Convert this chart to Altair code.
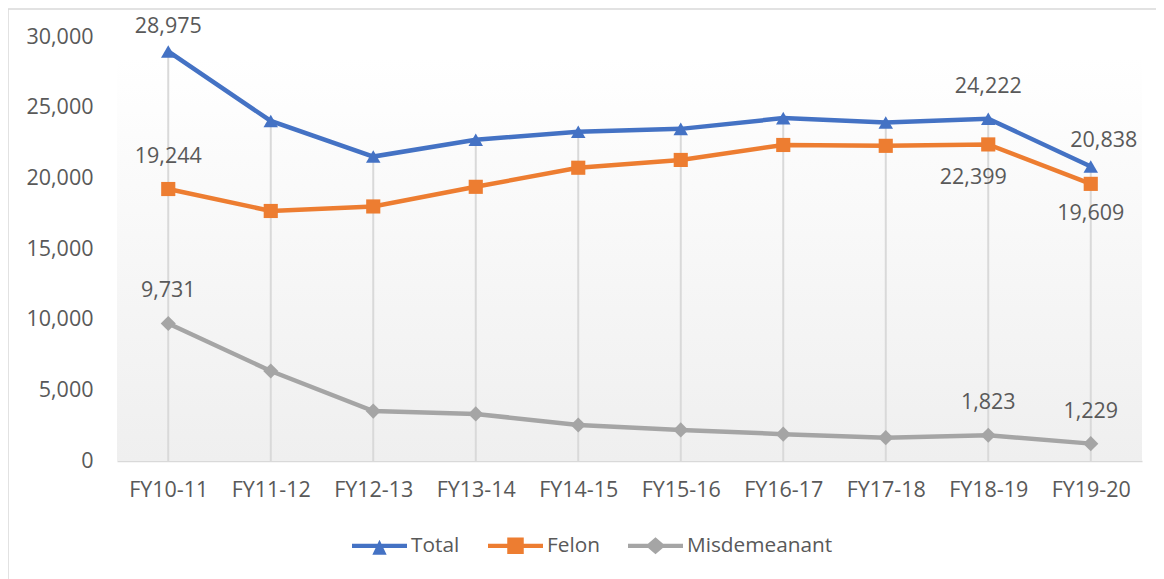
import altair as alt
import pandas as pd

categories = ["FY10-11", "FY11-12", "FY12-13", "FY13-14", "FY14-15",
              "FY15-16", "FY16-17", "FY17-18", "FY18-19", "FY19-20"]
series_names = ["Total", "Felon", "Misdemeanant"]
total = [28975, 24060, 21540, 22730, 23300, 23500, 24260, 23950, 24222, 20838]
felon = [19244, 17690, 18010, 19400, 20750, 21300, 22360, 22300, 22399, 19609]
misdemeanant = [9731, 6370, 3530, 3330, 2550, 2200, 1900, 1650, 1823, 1229]
y_ticks = [0, 5000, 10000, 15000, 20000, 25000, 30000]

# which points carry a data label, and where the label sits
labelled = [
    ("Total", "FY10-11", "top_tight"),
    ("Felon", "FY10-11", "above"),
    ("Misdemeanant", "FY10-11", "above"),
    ("Total", "FY18-19", "above"),
    ("Felon", "FY18-19", "below_left"),
    ("Misdemeanant", "FY18-19", "above"),
    ("Total", "FY19-20", "above_right"),
    ("Felon", "FY19-20", "below"),
    ("Misdemeanant", "FY19-20", "above"),
]
offsets = {
    "top_tight": (0, -24),
    "above": (0, -32),
    "below_left": (-15, 34),
    "above_right": (13, -25),
    "below": (0, 30),
}

colors = ["#4472C4", "#ED7D31", "#A5A5A5"]
marker_shapes = {"Total": ("triangle-up", 210), "Felon": ("square", 200), "Misdemeanant": ("diamond", 230)}
legend_paths = [
    "M-1,-0.08L1,-0.08L1,0.08L-1,0.08Z M-0.26,0.32L0,-0.22L0.26,0.32Z",
    "M-1,-0.08L1,-0.08L1,0.08L-1,0.08Z M-0.3,-0.3L0.3,-0.3L0.3,0.3L-0.3,0.3Z",
    "M-1,-0.08L1,-0.08L1,0.08L-1,0.08Z M-0.36,0L0,-0.31L0.36,0L0,0.31Z",
]

values = {"Total": total, "Felon": felon, "Misdemeanant": misdemeanant}
rows = []
for s in series_names:
    for c, v in zip(categories, values[s]):
        rows.append({"series": s, "category": c, "value": v})
df = pd.DataFrame(rows)
df_total = df[df.series == "Total"]

lab_rows = []
for s, c, p in labelled:
    v = values[s][categories.index(c)]
    lab_rows.append({"series": s, "category": c, "value": v, "place": p})
df_lab = pd.DataFrame(lab_rows)

W, H = 1025, 424
FONT = "Open Sans"
TXT = "#595959"
FS = 21.5

x_axis = alt.Axis(title=None, labelAngle=0, labelFontSize=FS, labelColor=TXT,
                  labelFont=FONT, labelPadding=18, domainColor="#d9d9d9",
                  domainWidth=1.5, ticks=False, grid=False)
y_axis = alt.Axis(title=None, values=y_ticks, format=",.0f", labelFontSize=FS,
                  labelColor=TXT, labelFont=FONT, labelPadding=24,
                  domain=False, ticks=False, grid=False)
x_scale = alt.Scale(type="point", padding=0.5)
y_scale = alt.Scale(domain=[0, 30000], nice=False)
x_enc = alt.X("category:N", sort=categories, scale=x_scale, axis=x_axis)
y_enc = alt.Y("value:Q", scale=y_scale, axis=y_axis)
color_scale = alt.Scale(domain=series_names, range=colors)

border = alt.Chart(pd.DataFrame({"a": [0]})).mark_rect(
    fill=None, stroke="#d9d9d9", strokeWidth=1.5, clip=False
).encode(x=alt.value(-109), x2=alt.value(W + 200), y=alt.value(-28), y2=alt.value(H + 300))

bg = alt.Chart(pd.DataFrame({"a": [0]})).mark_rect(
    color=alt.Gradient(gradient="linear", x1=0, x2=0, y1=0, y2=1,
                       stops=[alt.GradientStop(offset=0.05, color="#ffffff"),
                              alt.GradientStop(offset=1, color="#efefef")])
).encode(x=alt.value(0), x2=alt.value(W),
         y=alt.Y(datum=30000, type="quantitative", scale=y_scale, axis=y_axis),
         y2=alt.datum(0))

drops = alt.Chart(df_total).mark_rule(color="#d9d9d9", strokeWidth=2).encode(
    x=x_enc, y=y_enc, y2=alt.datum(0))

lines = alt.Chart(df).mark_line(strokeWidth=4.5).encode(
    x=x_enc, y=y_enc, color=alt.Color("series:N", scale=color_scale, legend=None),
    detail="series:N")

point_layers = []
for s in series_names:
    shp, sz = marker_shapes[s]
    point_layers.append(
        alt.Chart(df).transform_filter(alt.datum.series == s).mark_point(
            filled=True, opacity=1, shape=shp, size=sz
        ).encode(x=x_enc, y=y_enc,
                 color=alt.Color("series:N", scale=color_scale, legend=None)))

legend_def = alt.Legend(title=None, orient="none", legendX=235, legendY=481,
                        direction="horizontal", labelFontSize=20.8, labelColor=TXT,
                        labelFont=FONT, symbolSize=3025, symbolOpacity=1,
                        symbolStrokeWidth=0, columnPadding=28, labelOffset=4, padding=0)
legend_layer = alt.Chart(df).transform_filter("false").mark_point(filled=True).encode(
    x=x_enc, y=y_enc,
    color=alt.Color("series:N", scale=color_scale, legend=legend_def),
    shape=alt.Shape("series:N", scale=alt.Scale(domain=series_names, range=legend_paths),
                    legend=legend_def))

text_layers = []
for p, (dx, dy) in offsets.items():
    text_layers.append(
        alt.Chart(df_lab).transform_filter(alt.datum.place == p).mark_text(
            dx=dx, dy=dy, fontSize=FS, font=FONT, color=TXT, baseline="middle", align="center"
        ).encode(x=x_enc, y=y_enc, text=alt.Text("value:Q", format=",")))

chart = alt.layer(
    bg, border, drops, lines, *point_layers, legend_layer, *text_layers
).resolve_scale(
    color="independent", shape="independent"
).properties(
    width=W, height=H,
    autosize=alt.AutoSizeParams(type="none"),
    padding={"left": 109, "top": 29, "right": 14, "bottom": 118},
    background="white",
).configure_view(stroke=None)

chart.save("out.html", embed_options={"renderer": "svg", "actions": False})
